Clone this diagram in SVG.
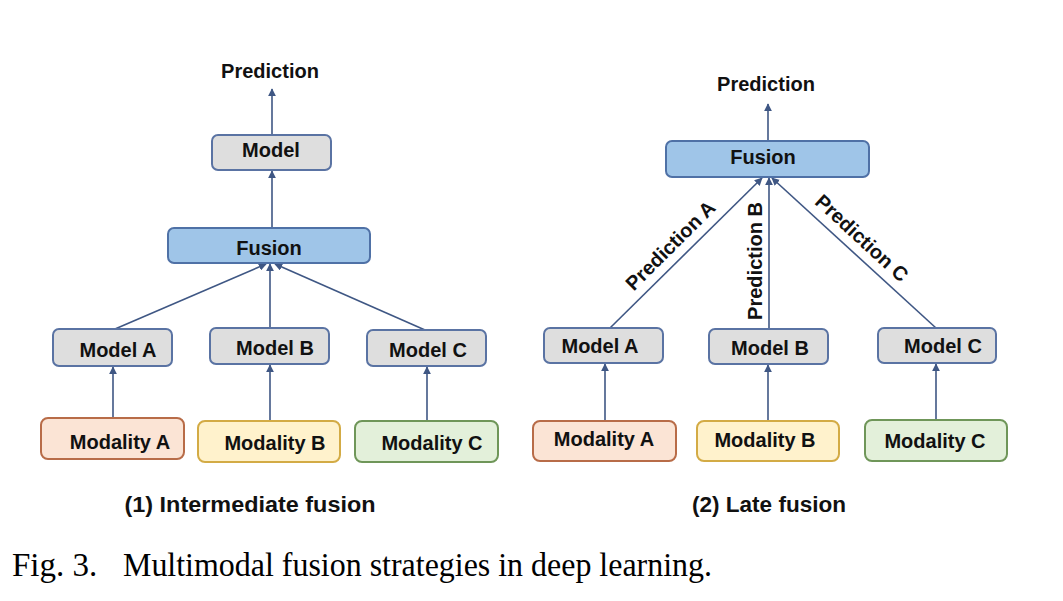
<svg xmlns="http://www.w3.org/2000/svg" width="1063" height="601" viewBox="0 0 1063 601">
<style>
.t{font-family:"Liberation Sans",Arial,sans-serif;font-weight:bold;font-size:20px;fill:#111;text-anchor:middle}
.ttl{font-family:"Liberation Sans",Arial,sans-serif;font-weight:bold;font-size:22px;fill:#111;text-anchor:middle}
.cap{font-family:"Liberation Serif","Times New Roman",serif;font-size:33px;fill:#000}
.g{fill:#dedede;stroke:#5a73a3;stroke-width:2}
.f{fill:#9fc5e8;stroke:#4f71a6;stroke-width:2}
.ma{fill:#fbe4d5;stroke:#b86c48;stroke-width:2}
.mb{fill:#fff2cc;stroke:#d3ab45;stroke-width:2}
.mc{fill:#e3f0da;stroke:#6f9659;stroke-width:2}
.c{stroke:#3f5784;stroke-width:1.6;fill:none;marker-end:url(#ah)}
</style>
<defs>
<marker id="ah" viewBox="0 0 10 10" refX="9" refY="5" markerWidth="5" markerHeight="5" orient="auto" markerUnits="strokeWidth">
<path d="M0,0 L10,5 L0,10 z" fill="#3f5784"/>
</marker>
</defs>
<rect width="1063" height="601" fill="#fff"/>

<g id="connectors">
<line class="c" x1="272" y1="135" x2="272" y2="89"/>
<line class="c" x1="272" y1="228" x2="272" y2="171"/>
<line class="c" x1="115" y1="329" x2="266" y2="264"/>
<line class="c" x1="270" y1="328" x2="270" y2="264"/>
<line class="c" x1="425" y1="330" x2="275" y2="264"/>
<line class="c" x1="113" y1="418" x2="113" y2="367"/>
<line class="c" x1="270" y1="421" x2="270" y2="365"/>
<line class="c" x1="427" y1="421" x2="427" y2="367"/>

<line class="c" x1="768" y1="141" x2="768" y2="104"/>
<line class="c" x1="610" y1="328" x2="762" y2="178"/>
<line class="c" x1="769" y1="329" x2="769" y2="178"/>
<line class="c" x1="936" y1="328" x2="772" y2="178"/>
<line class="c" x1="605" y1="421" x2="605" y2="364"/>
<line class="c" x1="768" y1="421" x2="768" y2="365"/>
<line class="c" x1="936" y1="420" x2="936" y2="364"/>
<text class="t" transform="translate(681.6,256.8) rotate(-44.8)" y="-9">Prediction A</text>
<text class="t" transform="translate(762,261) rotate(-90)" y="0">Prediction B</text>
<text class="t" transform="translate(851.1,249.8) rotate(42.6)" y="-9">Prediction C</text>
</g>

<g id="l-prediction"><text class="t" x="270" y="78">Prediction</text></g>
<g id="l-model"><rect class="g" x="212" y="135" width="119" height="35" rx="6"/><text class="t" x="271" y="157">Model</text></g>
<g id="l-fusion"><rect class="f" x="168" y="228" width="202" height="35" rx="6"/><text class="t" x="269" y="255">Fusion</text></g>
<g id="l-modelA"><rect class="g" x="53" y="329" width="119" height="37" rx="6"/><text class="t" x="118" y="357">Model A</text></g>
<g id="l-modelB"><rect class="g" x="210" y="328" width="119" height="36" rx="6"/><text class="t" x="275" y="355">Model B</text></g>
<g id="l-modelC"><rect class="g" x="367" y="330" width="119" height="36" rx="6"/><text class="t" x="428" y="357">Model C</text></g>
<g id="l-modalityA"><rect class="ma" x="41" y="418" width="143" height="41" rx="7"/><text class="t" x="120" y="449">Modality A</text></g>
<g id="l-modalityB"><rect class="mb" x="198" y="421" width="142" height="41" rx="7"/><text class="t" x="275" y="450">Modality B</text></g>
<g id="l-modalityC"><rect class="mc" x="355" y="421" width="143" height="41" rx="7"/><text class="t" x="432" y="450">Modality C</text></g>
<g id="l-title"><text class="ttl" x="250" y="512" textLength="251" lengthAdjust="spacingAndGlyphs">(1) Intermediate fusion</text></g>

<g id="r-prediction"><text class="t" x="766" y="91">Prediction</text></g>
<g id="r-fusion"><rect class="f" x="666" y="141" width="203" height="36" rx="6"/><text class="t" x="763" y="164">Fusion</text></g>
<g id="r-modelA"><rect class="g" x="544" y="328" width="119" height="35" rx="6"/><text class="t" x="600" y="353">Model A</text></g>
<g id="r-modelB"><rect class="g" x="709" y="329" width="119" height="35" rx="6"/><text class="t" x="770" y="355">Model B</text></g>
<g id="r-modelC"><rect class="g" x="878" y="328" width="118" height="35" rx="6"/><text class="t" x="943" y="353">Model C</text></g>
<g id="r-modalityA"><rect class="ma" x="533" y="421" width="143" height="40" rx="7"/><text class="t" x="604" y="446">Modality A</text></g>
<g id="r-modalityB"><rect class="mb" x="697" y="421" width="142" height="40" rx="7"/><text class="t" x="765" y="447">Modality B</text></g>
<g id="r-modalityC"><rect class="mc" x="865" y="420" width="142" height="41" rx="7"/><text class="t" x="935" y="448">Modality C</text></g>
<g id="r-title"><text class="ttl" x="769" y="512" textLength="154" lengthAdjust="spacingAndGlyphs">(2) Late fusion</text></g>

<g id="caption">
<text class="cap" x="12" y="576">Fig. 3.</text>
<text class="cap" x="123" y="576" textLength="589" lengthAdjust="spacingAndGlyphs">Multimodal fusion strategies in deep learning.</text>
</g>
</svg>
